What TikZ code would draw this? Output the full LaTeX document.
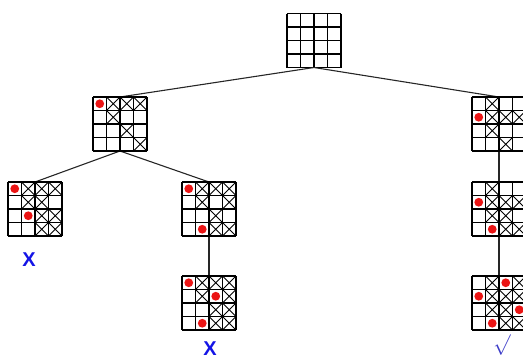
\documentclass[tikz,border=0pt]{standalone}
\usepackage{fontspec}
\setsansfont{Liberation Sans}
\usetikzlibrary{positioning}

\definecolor{failblue}{RGB}{20,20,230}
\definecolor{okblue}{RGB}{60,60,200}
\definecolor{queenred}{RGB}{235,20,20}

% one 4x4 board: node name, queens r/c, crossed cells r/c
\newcommand{\boardmarks}[3]{%
  \begin{scope}[shift={(#1.north west)}, x=13.5pt, y=-13.5pt]
    \foreach \r/\c in {#3}
      \draw[cross] (\c-1,\r-1) -- (\c,\r) (\c,\r-1) -- (\c-1,\r);
    \foreach \r/\c in {#2}
      \fill[queen] (\c-0.5,\r-0.5) circle (4.4pt);
    \foreach \i in {0,...,4}
      \draw[gridline] (\i,0) -- (\i,4) (0,\i) -- (4,\i);
  \end{scope}}

\begin{document}
\begin{tikzpicture}[
    x=1pt, y=-1pt,
    board/.style={rectangle, minimum size=54pt, inner sep=0pt, outer sep=0pt},
    gridline/.style={line width=1.1pt, black},
    cross/.style={line width=0.85pt, black},
    queen/.style={fill=queenred},
    edge/.style={line width=1.1pt, black!85},
    fail/.style={font=\sffamily\bfseries\fontsize{20}{20}\selectfont, text=failblue},
    ok/.style={font=\fontsize{20}{20}\selectfont, text=okblue}
]
    \useasboundingbox (0,0) rectangle (523,360);
    \clip (0,0) rectangle (523,360);

    % Root
    \node[board] (root) at (314,40.5) {};
    \begin{scope}[shift={(root.north west)}, x=13.5pt, y=-13.5pt]
      \foreach \i in {0,...,4}
        \draw[gridline] (\i,0) -- (\i,4) (0,\i) -- (4,\i);
    \end{scope}

    % First queen
    \node[board] (q1a) at (120,124) {};
    \node[board] (q1b) at (499,124) {};
    % Second queen
    \node[board] (q2a) at (35,209) {};
    \node[board] (q2b) at (209,209) {};
    \node[board] (q2c) at (499,209) {};
    % Third and fourth queen
    \node[board] (q3a) at (209,303) {};
    \node[board] (q3b) at (499,303) {};

    % Edges
    \draw[edge] (root.south) -- (q1a.north);
    \draw[edge] (root.south) -- (q1b.north);
    \draw[edge] (q1a.south) -- (q2a.north);
    \draw[edge] (q1a.south) -- (q2b.north);
    \draw[edge] (q2b.south) -- (q3a.north);
    \draw[edge] (q1b.south) -- (q2c.north);
    \draw[edge] (q2c.south) -- (q3b.north);

    \boardmarks{q1a}{1/1}{1/2,1/3,1/4,2/2,3/3,4/4}
    \boardmarks{q1b}{2/1}{2/2,2/3,2/4,1/2,3/2,4/3}
    \boardmarks{q2a}{1/1,3/2}{1/2,1/3,1/4,2/2,2/3,3/3,3/4,4/3,4/4}
    \boardmarks{q2b}{1/1,4/2}{1/2,1/3,1/4,2/2,2/4,3/3,4/3,4/4}
    \boardmarks{q2c}{2/1,4/2}{1/2,2/2,2/3,2/4,3/2,3/3,4/3,4/4}
    \boardmarks{q3a}{1/1,4/2,2/3}{1/2,1/3,1/4,2/2,2/4,3/3,3/4,4/3,4/4}
    \boardmarks{q3b}{2/1,4/2,1/3,3/4}{1/2,1/4,2/2,2/3,2/4,3/2,3/3,4/3,4/4}

    % Results
    \node[fail] (faila) at (29,260) {X};
    \node[fail] (failb) at (210,349) {X};
    \node[ok] (found) at (502,345) {$\surd$};
\end{tikzpicture}
\end{document}
